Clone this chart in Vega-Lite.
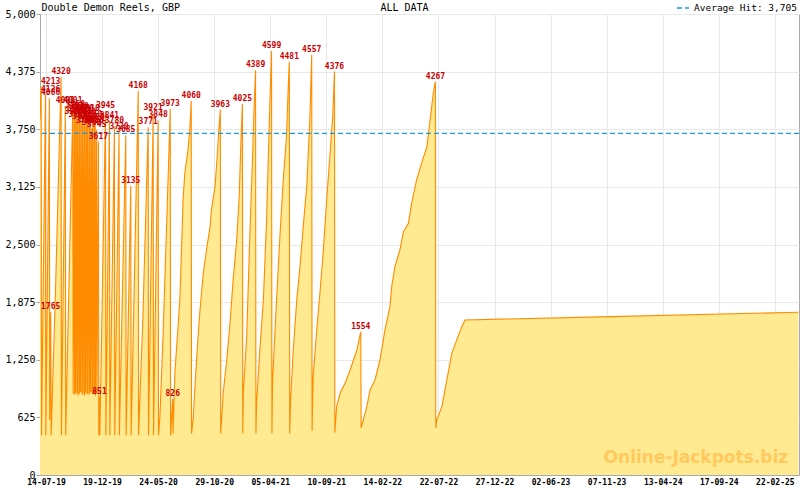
{
  "$schema": "https://vega.github.io/schema/vega-lite/v6.json",
  "width": 759,
  "height": 461,
  "autosize": "none",
  "padding": {"left": 40, "top": 14, "right": 1, "bottom": 15},
  "background": "white",
  "config": {
    "view": {"stroke": "#aaaaaa"},
    "font": "DejaVu Sans Mono"
  },
  "title": {
    "text": "ALL DATA",
    "anchor": "middle",
    "font": "DejaVu Sans Mono",
    "fontSize": 10,
    "fontWeight": "normal",
    "color": "black",
    "offset": 3,
    "dx": -15,
    "dy": 15
  },
  "data": {
    "values": [
      {"d": "2019-06-27", "v": 3850},
      {"d": "2019-07-01", "v": 4213, "h": 1},
      {"d": "2019-07-02", "v": 430},
      {"d": "2019-07-13", "v": 4126, "h": 1},
      {"d": "2019-07-14", "v": 430},
      {"d": "2019-07-24", "v": 4086, "h": 1},
      {"d": "2019-07-25", "v": 600},
      {"d": "2019-07-28", "v": 1765, "h": 1},
      {"d": "2019-07-29", "v": 430},
      {"d": "2019-08-11", "v": 2100},
      {"d": "2019-08-26", "v": 4320, "h": 1},
      {"d": "2019-08-27", "v": 430},
      {"d": "2019-09-07", "v": 4001, "h": 1},
      {"d": "2019-09-08", "v": 430},
      {"d": "2019-09-28", "v": 4001, "h": 1},
      {"d": "2019-09-29", "v": 880},
      {"d": "2019-10-02", "v": 3880, "h": 1},
      {"d": "2019-10-03", "v": 870},
      {"d": "2019-10-05", "v": 3960, "h": 1},
      {"d": "2019-10-06", "v": 890},
      {"d": "2019-10-09", "v": 3910, "h": 1},
      {"d": "2019-10-10", "v": 880},
      {"d": "2019-10-12", "v": 3850, "h": 1},
      {"d": "2019-10-13", "v": 860},
      {"d": "2019-10-16", "v": 3940, "h": 1},
      {"d": "2019-10-17", "v": 880},
      {"d": "2019-10-19", "v": 3900, "h": 1},
      {"d": "2019-10-20", "v": 900},
      {"d": "2019-10-23", "v": 3825, "h": 1},
      {"d": "2019-10-24", "v": 870},
      {"d": "2019-10-26", "v": 3885, "h": 1},
      {"d": "2019-10-27", "v": 880},
      {"d": "2019-10-30", "v": 3920, "h": 1},
      {"d": "2019-10-31", "v": 860},
      {"d": "2019-11-02", "v": 3790, "h": 1},
      {"d": "2019-11-03", "v": 890},
      {"d": "2019-11-06", "v": 3870, "h": 1},
      {"d": "2019-11-07", "v": 880},
      {"d": "2019-11-09", "v": 3830, "h": 1},
      {"d": "2019-11-10", "v": 870},
      {"d": "2019-11-13", "v": 3800, "h": 1},
      {"d": "2019-11-14", "v": 880},
      {"d": "2019-11-16", "v": 3910, "h": 1},
      {"d": "2019-11-17", "v": 900},
      {"d": "2019-11-20", "v": 3760, "h": 1},
      {"d": "2019-11-21", "v": 880},
      {"d": "2019-11-23", "v": 3850, "h": 1},
      {"d": "2019-11-24", "v": 870},
      {"d": "2019-11-27", "v": 3780, "h": 1},
      {"d": "2019-11-28", "v": 880},
      {"d": "2019-11-30", "v": 3820, "h": 1},
      {"d": "2019-12-01", "v": 860},
      {"d": "2019-12-04", "v": 3745, "h": 1},
      {"d": "2019-12-05", "v": 880},
      {"d": "2019-12-09", "v": 3617, "h": 1},
      {"d": "2019-12-10", "v": 430},
      {"d": "2019-12-12", "v": 851, "h": 1},
      {"d": "2019-12-13", "v": 430},
      {"d": "2019-12-29", "v": 3945, "h": 1},
      {"d": "2019-12-30", "v": 430},
      {"d": "2020-01-09", "v": 3841, "h": 1},
      {"d": "2020-01-10", "v": 430},
      {"d": "2020-01-23", "v": 3780, "h": 1},
      {"d": "2020-01-24", "v": 430},
      {"d": "2020-02-05", "v": 3720, "h": 1},
      {"d": "2020-02-06", "v": 430},
      {"d": "2020-02-24", "v": 3685, "h": 1},
      {"d": "2020-02-25", "v": 430},
      {"d": "2020-03-09", "v": 3135, "h": 1},
      {"d": "2020-03-10", "v": 430},
      {"d": "2020-03-30", "v": 4168, "h": 1},
      {"d": "2020-03-31", "v": 430},
      {"d": "2020-04-12", "v": 1700},
      {"d": "2020-04-27", "v": 3771, "h": 1},
      {"d": "2020-04-28", "v": 430},
      {"d": "2020-05-11", "v": 3921, "h": 1},
      {"d": "2020-05-12", "v": 430},
      {"d": "2020-05-25", "v": 3848, "h": 1},
      {"d": "2020-05-26", "v": 430},
      {"d": "2020-05-30", "v": 633},
      {"d": "2020-06-08", "v": 1537},
      {"d": "2020-06-18", "v": 2731},
      {"d": "2020-06-26", "v": 3707},
      {"d": "2020-06-28", "v": 3973, "h": 1},
      {"d": "2020-06-29", "v": 430},
      {"d": "2020-07-05", "v": 826, "h": 1},
      {"d": "2020-07-06", "v": 450},
      {"d": "2020-07-11", "v": 1106},
      {"d": "2020-07-20", "v": 1609},
      {"d": "2020-07-25", "v": 1899},
      {"d": "2020-07-30", "v": 2477},
      {"d": "2020-08-03", "v": 2984},
      {"d": "2020-08-08", "v": 3273},
      {"d": "2020-08-17", "v": 3526},
      {"d": "2020-08-22", "v": 3743},
      {"d": "2020-08-26", "v": 4060, "h": 1},
      {"d": "2020-08-27", "v": 450},
      {"d": "2020-09-01", "v": 633},
      {"d": "2020-09-05", "v": 922},
      {"d": "2020-09-10", "v": 1248},
      {"d": "2020-09-15", "v": 1537},
      {"d": "2020-09-19", "v": 1754},
      {"d": "2020-09-24", "v": 1971},
      {"d": "2020-09-29", "v": 2188},
      {"d": "2020-10-08", "v": 2441},
      {"d": "2020-10-18", "v": 2694},
      {"d": "2020-10-22", "v": 2875},
      {"d": "2020-11-01", "v": 3128},
      {"d": "2020-11-07", "v": 3454},
      {"d": "2020-11-13", "v": 3816},
      {"d": "2020-11-16", "v": 3963, "h": 1},
      {"d": "2020-11-17", "v": 450},
      {"d": "2020-11-24", "v": 889},
      {"d": "2020-12-04", "v": 1248},
      {"d": "2020-12-13", "v": 1646},
      {"d": "2020-12-22", "v": 2116},
      {"d": "2021-01-01", "v": 2550},
      {"d": "2021-01-08", "v": 3020},
      {"d": "2021-01-13", "v": 3635},
      {"d": "2021-01-17", "v": 4025, "h": 1},
      {"d": "2021-01-18", "v": 450},
      {"d": "2021-01-20", "v": 922},
      {"d": "2021-01-29", "v": 1500},
      {"d": "2021-02-07", "v": 2600},
      {"d": "2021-02-15", "v": 3500},
      {"d": "2021-02-19", "v": 4000},
      {"d": "2021-02-23", "v": 4389, "h": 1},
      {"d": "2021-02-24", "v": 450},
      {"d": "2021-02-26", "v": 780},
      {"d": "2021-03-07", "v": 1356},
      {"d": "2021-03-17", "v": 1899},
      {"d": "2021-03-26", "v": 2767},
      {"d": "2021-03-31", "v": 3454},
      {"d": "2021-04-04", "v": 3996},
      {"d": "2021-04-09", "v": 4599, "h": 1},
      {"d": "2021-04-10", "v": 450},
      {"d": "2021-04-12", "v": 1031},
      {"d": "2021-04-23", "v": 1899},
      {"d": "2021-05-03", "v": 2622},
      {"d": "2021-05-12", "v": 3201},
      {"d": "2021-05-21", "v": 3671},
      {"d": "2021-05-26", "v": 4213},
      {"d": "2021-05-29", "v": 4481, "h": 1},
      {"d": "2021-05-30", "v": 450},
      {"d": "2021-06-02", "v": 850},
      {"d": "2021-06-09", "v": 1356},
      {"d": "2021-06-19", "v": 1899},
      {"d": "2021-06-28", "v": 2260},
      {"d": "2021-07-07", "v": 2694},
      {"d": "2021-07-17", "v": 3128},
      {"d": "2021-07-26", "v": 3888},
      {"d": "2021-07-31", "v": 4557, "h": 1},
      {"d": "2021-08-01", "v": 480},
      {"d": "2021-08-04", "v": 1067},
      {"d": "2021-08-14", "v": 1573},
      {"d": "2021-08-23", "v": 1971},
      {"d": "2021-09-01", "v": 2405},
      {"d": "2021-09-11", "v": 2984},
      {"d": "2021-09-20", "v": 3454},
      {"d": "2021-09-28", "v": 3888},
      {"d": "2021-10-03", "v": 4376, "h": 1},
      {"d": "2021-10-04", "v": 460},
      {"d": "2021-10-09", "v": 741},
      {"d": "2021-10-19", "v": 889},
      {"d": "2021-11-02", "v": 998},
      {"d": "2021-11-16", "v": 1139},
      {"d": "2021-12-05", "v": 1356},
      {"d": "2021-12-16", "v": 1554, "h": 1},
      {"d": "2021-12-17", "v": 510},
      {"d": "2021-12-23", "v": 597},
      {"d": "2022-01-02", "v": 741},
      {"d": "2022-01-11", "v": 922},
      {"d": "2022-01-25", "v": 1031},
      {"d": "2022-02-08", "v": 1248},
      {"d": "2022-02-22", "v": 1573},
      {"d": "2022-03-08", "v": 1826},
      {"d": "2022-03-13", "v": 2043},
      {"d": "2022-03-22", "v": 2260},
      {"d": "2022-04-05", "v": 2441},
      {"d": "2022-04-15", "v": 2640},
      {"d": "2022-04-29", "v": 2731},
      {"d": "2022-05-08", "v": 2948},
      {"d": "2022-05-22", "v": 3201},
      {"d": "2022-06-05", "v": 3382},
      {"d": "2022-06-20", "v": 3562},
      {"d": "2022-06-29", "v": 3852},
      {"d": "2022-07-08", "v": 4141},
      {"d": "2022-07-14", "v": 4267, "h": 1},
      {"d": "2022-07-15", "v": 510},
      {"d": "2022-07-18", "v": 600},
      {"d": "2022-08-01", "v": 741},
      {"d": "2022-08-15", "v": 1031},
      {"d": "2022-08-29", "v": 1320},
      {"d": "2022-09-12", "v": 1465},
      {"d": "2022-09-26", "v": 1609},
      {"d": "2022-10-05", "v": 1682},
      {"d": "2023-10-20", "v": 1715},
      {"d": "2025-04-30", "v": 1765}
    ]
  },
  "layer": [
    {
      "mark": {
        "type": "area",
        "color": "#FFE991",
        "opacity": 1,
        "clip": true,
        "line": {"color": "#FF8C00", "strokeWidth": 1.1, "opacity": 1}
      },
      "encoding": {
        "x": {
          "field": "d",
          "type": "temporal",
          "scale": {"type": "utc", "domain": [1561652352000, 1746107712000], "nice": false},
          "axis": {
            "title": null,
            "values": {"expr": "sequence(1563112512000, 1748018006505, 1946373626.37)"},
            "tickCount": 500,
            "labelExpr": "round((datum.value - 1563112512000) / 1946373626.37) % 7 == 0 ? utcFormat(datum.value, '%d-%m-%y') : ''",
            "gridOpacity": {"condition": {"test": "round((datum.value - 1563112512000) / 1946373626.37) % 7 == 0", "value": 1}, "value": 0},
            "tickSize": {"condition": {"test": "round((datum.value - 1563112512000) / 1946373626.37) % 7 == 0", "value": -6}, "value": -3},
            "gridColor": "#e8e8e8",
            "tickColor": "#aaaaaa",
            "domainColor": "#aaaaaa",
            "labelFont": "DejaVu Sans Mono",
            "labelFontSize": 8,
            "labelFontWeight": "bold",
            "labelColor": "black",
            "labelPadding": 9,
            "labelOverlap": false,
            "labelFlush": false,
            "labelBound": false
          }
        },
        "y": {
          "field": "v",
          "type": "quantitative",
          "scale": {"domain": [0, 5000], "nice": false},
          "axis": {
            "title": "Double Demon Reels, GBP",
            "titleAngle": 0,
            "titleAlign": "left",
            "titleBaseline": "alphabetic",
            "titleX": 1,
            "titleY": -4,
            "titleFont": "DejaVu Sans Mono",
            "titleFontSize": 10,
            "titleFontWeight": "normal",
            "titleColor": "black",
            "values": [0, 625, 1250, 1875, 2500, 3125, 3750, 4375, 5000],
            "format": ",d",
            "gridColor": "#e8e8e8",
            "tickColor": "#aaaaaa",
            "domainColor": "#aaaaaa",
            "tickSize": 4,
            "labelPadding": 1,
            "labelFont": "DejaVu Sans Mono",
            "labelFontSize": 10,
            "labelColor": "black"
          }
        }
      }
    },
    {
      "data": {"values": [{}]},
      "mark": {"type": "rule", "stroke": "#1b9ad8", "strokeWidth": 1.3},
      "encoding": {
        "y": {"datum": 3705, "type": "quantitative"},
        "strokeDash": {
          "datum": "Average Hit: 3,705",
          "type": "nominal",
          "scale": {"range": [[5, 3]]},
          "legend": {
            "orient": "none",
            "legendX": 636,
            "legendY": -13,
            "title": null,
            "symbolType": "stroke",
            "symbolStrokeColor": "#1b9ad8",
            "symbolStrokeWidth": 1.3,
            "symbolDash": [4, 3],
            "symbolSize": 144,
            "symbolOffset": 0,
            "padding": 0,
            "labelOffset": 4,
            "labelFont": "DejaVu Sans Mono",
            "labelFontSize": 9.5,
            "labelColor": "black"
          }
        }
      }
    },
    {
      "transform": [
        {"filter": "datum.h == 1"},
        {"filter": {"field": "d", "gte": {"year": 2019, "month": 7, "date": 30, "utc": true}}}
      ],
      "mark": {
        "type": "text",
        "baseline": "bottom",
        "dy": -1,
        "font": "DejaVu Sans Mono",
        "fontSize": 8,
        "fontWeight": "bold",
        "color": "#cc0000"
      },
      "encoding": {
        "x": {"field": "d", "type": "temporal"},
        "y": {"field": "v", "type": "quantitative"},
        "text": {"field": "v", "type": "quantitative", "format": "d"}
      }
    },
    {
      "transform": [
        {"filter": "datum.h == 1"},
        {"filter": {"field": "d", "lt": {"year": 2019, "month": 7, "date": 30, "utc": true}}}
      ],
      "mark": {
        "type": "text",
        "align": "left",
        "baseline": "bottom",
        "dx": 1,
        "dy": -1,
        "font": "DejaVu Sans Mono",
        "fontSize": 8,
        "fontWeight": "bold",
        "color": "#cc0000"
      },
      "encoding": {
        "x": {"datum": {"year": 2019, "month": 6, "date": 27, "hours": 16, "utc": true}, "type": "temporal"},
        "y": {"field": "v", "type": "quantitative"},
        "text": {"field": "v", "type": "quantitative", "format": "d"}
      }
    },
    {
      "data": {"values": [{}]},
      "mark": {
        "type": "text",
        "align": "right",
        "baseline": "middle",
        "font": "DejaVu Sans",
        "fontSize": 17,
        "fontWeight": "bold",
        "color": "#FFC95E"
      },
      "encoding": {
        "x": {"datum": {"year": 2025, "month": 4, "date": 1, "utc": true}, "type": "temporal"},
        "y": {"datum": 184, "type": "quantitative"},
        "text": {"value": "Online-Jackpots.biz"}
      }
    }
  ]
}
